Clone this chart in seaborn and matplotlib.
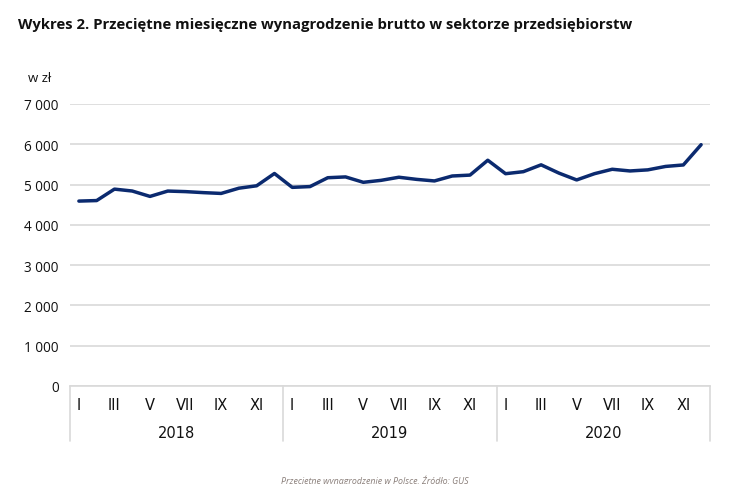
import numpy as np
import pandas as pd
import matplotlib
matplotlib.use("Agg")
import matplotlib.pyplot as plt
import matplotlib.transforms as mtransforms
import seaborn as sns

# Data: average monthly gross wage in the enterprise sector (PLN)
years = ["2018", "2019", "2020"]
months = ["I", "II", "III", "IV", "V", "VI", "VII", "VIII", "IX", "X", "XI", "XII"]
wage_2018 = [4590, 4603, 4887, 4840, 4706, 4839, 4825, 4800, 4780, 4910, 4970, 5275]
wage_2019 = [4931, 4950, 5170, 5190, 5056, 5105, 5182, 5129, 5090, 5213, 5235, 5604]
wage_2020 = [5270, 5320, 5490, 5285, 5115, 5270, 5380, 5338, 5365, 5450, 5487, 5990]
y_ticks = [0, 1000, 2000, 3000, 4000, 5000, 6000, 7000]

df = pd.DataFrame({
    "year": np.repeat(years, 12),
    "month": months * 3,
    "wage": wage_2018 + wage_2019 + wage_2020,
})
df["idx"] = np.arange(len(df))

sns.set_theme(style="white")
plt.rcParams["font.family"] = ["Open Sans", "DejaVu Sans"]
narrow = ["Liberation Sans Narrow", "DejaVu Sans"]

fig = plt.figure(figsize=(7.5, 4.85), dpi=100)
ax = fig.add_axes([70 / 750, 1 - 387 / 485, 640 / 750, 282 / 485])

sns.lineplot(data=df, x="idx", y="wage", ax=ax, color="#0b2a6f", linewidth=2.5)

ax.set_xlim(-0.5, len(df) - 0.5)
ax.set_ylim(0, 7000)
ax.set_yticks(y_ticks)
ax.set_yticklabels([f"{v:,}".replace(",", " ") for v in y_ticks], fontsize=9.8, color="#111111")
ax.yaxis.grid(True, color="#d9d9d9", linewidth=1.2)
ax.xaxis.grid(False)
for s in ["top", "right", "left"]:
    ax.spines[s].set_visible(False)
ax.spines["bottom"].set_color("#d9d9d9")
ax.spines["bottom"].set_linewidth(1.2)
ax.tick_params(axis="y", length=0, pad=8)

# month labels every other month
tick_pos = df["idx"][::2]
ax.set_xticks(tick_pos)
ax.set_xticklabels(df["month"][::2], fontsize=10.5, family=narrow, color="#111111")
ax.tick_params(axis="x", length=0, pad=8)
ax.set_xlabel("")
ax.set_ylabel("")

# year separators and labels
trans = mtransforms.blended_transform_factory(ax.transData, ax.transAxes)
for i in range(len(years) + 1):
    ax.plot([i * 12 - 0.5] * 2, [0, -0.195], transform=trans, color="#d9d9d9",
            linewidth=1.2, clip_on=False)
for i, yr in enumerate(years):
    ax.text(i * 12 + 5.5, -0.165, yr, transform=trans, ha="center", va="center",
            fontsize=10.5, family=narrow, color="#111111")

fig.text(18 / 750, 1 - 25 / 485, "Wykres 2. Przeciętne miesięczne wynagrodzenie brutto w sektorze przedsiębiorstw",
         fontsize=10.7, fontweight="bold", ha="left", va="center", color="#111111")
fig.text(28 / 750, 1 - 78 / 485, "w zł", fontsize=9.5, ha="left", va="center", color="#111111")
fig.text(375 / 750, 1 - 481 / 485, "Przeciętne wynagrodzenie w Polsce. Źródło: GUS",
         fontsize=6.4, style="italic", color="#8a7f7a", ha="center", va="center")

fig.savefig("out.png", dpi=100)
